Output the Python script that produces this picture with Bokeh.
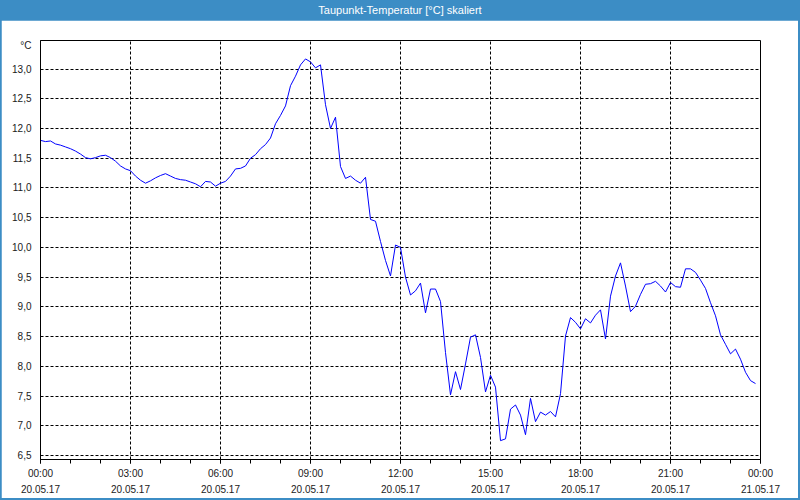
import pandas as pd
from bokeh.plotting import figure
from bokeh.models import (Range1d, FixedTicker, DatetimeTickFormatter,
                          CustomJSTickFormatter, Div)
from bokeh.layouts import column
from bokeh.embed import file_html
from bokeh.resources import INLINE

# ---------------- data ----------------
title_text = "Taupunkt-Temperatur [°C] skaliert"
unit_label = "°C"
start_time = "2017-05-20 00:00"
end_time = "2017-05-21 00:00"
sample_step = "10min"

dew_point = [
    11.80, 11.78, 11.79, 11.74, 11.72, 11.69, 11.66, 11.62, 11.57, 11.51,
    11.49, 11.51, 11.54, 11.55, 11.51, 11.45, 11.37, 11.32, 11.29, 11.20,
    11.13, 11.08, 11.12, 11.17, 11.21, 11.24, 11.20, 11.16, 11.14, 11.13,
    11.10, 11.07, 11.02, 11.11, 11.10, 11.03, 11.08, 11.11, 11.20, 11.32,
    11.33, 11.37, 11.50, 11.56, 11.66, 11.73, 11.84, 12.08, 12.22, 12.38,
    12.72, 12.88, 13.07, 13.17, 13.12, 13.02, 13.07, 12.40, 12.00, 12.19,
    11.36, 11.16, 11.20, 11.13, 11.08, 11.18, 10.47, 10.44, 10.10, 9.78,
    9.52, 10.04, 10.00, 9.50, 9.20, 9.27, 9.40, 8.90, 9.30, 9.30,
    9.09, 8.23, 7.52, 7.91, 7.61, 8.04, 8.49, 8.53, 8.15, 7.57,
    7.85, 7.65, 6.75, 6.78, 7.28, 7.35, 7.18, 6.85, 7.46, 7.07,
    7.23, 7.18, 7.24, 7.15, 7.54, 8.51, 8.82, 8.74, 8.63, 8.80,
    8.73, 8.86, 8.95, 8.46, 9.18, 9.52, 9.74, 9.35, 8.92, 9.01,
    9.21, 9.38, 9.39, 9.43, 9.35, 9.25, 9.41, 9.34, 9.33, 9.64,
    9.64, 9.58, 9.45, 9.31, 9.07, 8.85, 8.53, 8.37, 8.21, 8.29,
    8.12, 7.90, 7.76, 7.71,
]

y_ticks = [6.5, 7.0, 7.5, 8.0, 8.5, 9.0, 9.5, 10.0, 10.5, 11.0, 11.5, 12.0, 12.5, 13.0]
y_unit_pos = 13.40          # where the unit text sits on the value axis
y_min, y_max = 6.433, 13.48
x_major_hours = [0, 3, 6, 9, 12, 15, 18, 21, 24]
x_minor_hours = list(range(25))

# ---------------- styles ----------------
BLUE_FRAME = "#3c8dc5"
LINE_COLOR = "#0000ff"
FONT = "Liberation Sans"
TEXT_COLOR = "#1a1a1a"

t0 = pd.Timestamp(start_time)
t1 = pd.Timestamp(end_time)
times = pd.date_range(start_time, periods=len(dew_point), freq=sample_step)


def ms(t):
    return t.value / 1e6


p = figure(width=797, height=478, x_axis_type="datetime",
           output_backend="svg", toolbar_location=None,
           x_range=Range1d(ms(t0), ms(t1)), y_range=Range1d(y_min, y_max),
           min_border_left=39, min_border_right=38,
           min_border_top=20, min_border_bottom=38,
           background_fill_color="white", border_fill_color="white")
p.margin = (0, 2, 2, 1)

p.line(times, dew_point, line_color=LINE_COLOR, line_width=1)

# x axis
p.xaxis.ticker = FixedTicker(
    ticks=[ms(t0 + pd.Timedelta(hours=h)) for h in x_major_hours],
    minor_ticks=[ms(t0 + pd.Timedelta(hours=h)) for h in x_minor_hours])
fmt = "%H:%M\n%d.%m.%y"
p.xaxis.formatter = DatetimeTickFormatter(
    microseconds=fmt, milliseconds=fmt, seconds=fmt, minsec=fmt,
    minutes=fmt, hourmin=fmt, hours=fmt, days=fmt, months=fmt, years=fmt,
    strip_leading_zeros=False)
p.xaxis.major_tick_in = 0
p.xaxis.major_tick_out = 4
p.xaxis.minor_tick_in = 0
p.xaxis.minor_tick_out = 4
p.xaxis.major_tick_line_color = "black"
p.xaxis.minor_tick_line_color = "black"
p.xaxis.major_label_standoff = 4
p.xaxis.major_label_text_line_height = 1.5

# y axis (the unit text is shown as an extra, tick-less label at the top)
p.yaxis.ticker = FixedTicker(ticks=y_ticks + [y_unit_pos])
p.yaxis.formatter = CustomJSTickFormatter(
    args=dict(unit=unit_label, upos=y_unit_pos),
    code="if (Math.abs(tick - upos) < 1e-6) { return unit; } "
         "return tick.toFixed(1).replace('.', ',');")
p.yaxis.major_tick_line_color = None
p.yaxis.minor_tick_line_color = None
p.yaxis.major_label_standoff = 3

for ax in (p.xaxis, p.yaxis):
    ax.axis_line_color = "black"
    ax.major_label_text_font = FONT
    ax.major_label_text_font_size = "10px"
    ax.major_label_text_color = TEXT_COLOR

# grid (only on the numeric ticks)
p.ygrid.ticker = FixedTicker(ticks=y_ticks)
for g in (p.xgrid, p.ygrid):
    g.grid_line_color = "black"
    g.grid_line_dash = "3 2"
    g.grid_line_width = 1
    g.grid_line_alpha = 1.0

p.outline_line_color = "black"
p.outline_line_width = 1
p.outline_line_alpha = 1.0

header = Div(text=title_text, width=800, height=20, margin=0,
             styles={"color": "white", "text-align": "center",
                     "font-family": FONT, "font-size": "11px",
                     "line-height": "20px", "width": "800px"})

layout = column(header, p, width=800, height=500, spacing=0,
                styles={"background-color": BLUE_FRAME})

html = file_html(layout, INLINE, title=title_text)
html = html.replace("</head>",
                    "<style>html,body{margin:0;padding:0;overflow:hidden;}</style></head>", 1)
open("out.html", "w").write(html)
